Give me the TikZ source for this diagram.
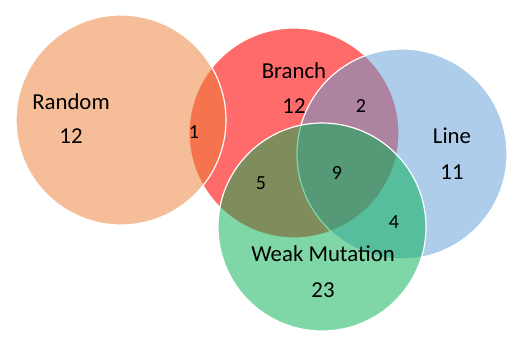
\documentclass[tikz,border=0pt]{standalone}
\usepackage{fontspec}
\setmainfont{Carlito}
\usetikzlibrary{positioning}
\definecolor{setred}{RGB}{255,0,0}
\definecolor{setorange}{RGB}{237,125,49}
\definecolor{setblue}{RGB}{91,155,213}
\definecolor{setgreen}{RGB}{0,176,80}

\begin{document}
\begin{tikzpicture}[x=1pt, y=-1pt,
    setcircle/.style={circle, draw=white, line width=1.2pt, fill opacity=0.5, inner sep=0pt},
    setname/.style={font=\fontsize{22.8}{27}\selectfont},
    setcount/.style={font=\fontsize{20}{24}\selectfont}]
    \useasboundingbox (0,0) rectangle (527,351);
    % the four sets
    \node[setcircle, fill=setred, fill opacity=0.58, minimum size=210pt] (branch) at (294,133) {};
    \node[setcircle, fill=setorange, minimum size=210pt] (random) at (121,120) {};
    \node[setcircle, fill=setblue, minimum size=210pt] (line) at (402,154) {};
    \node[setcircle, fill=setgreen, minimum size=208pt] (weak) at (322,227) {};

    % names and counts
    \node[setname] (randomname) at (71,102) {Random};
    \node[setname] (randomcount) at (71,136) {12};
    \node[setname] (branchname) at (294,71) {Branch};
    \node[setname] (branchcount) at (294,106) {12};
    \node[setname] (linename) at (452,136) {Line};
    \node[setname] (linecount) at (452,172) {11};
    \node[setname] (weakname) at (323,254) {Weak Mutation};
    \node[setname] (weakcount) at (323,290) {23};

    \node[setcount] (rb) at (194,132) {1};
    \node[setcount] (bl) at (361,106) {2};
    \node[setcount] (bw) at (261,183) {5};
    \node[setcount] (blw) at (337,173) {9};
    \node[setcount] (lw) at (394,222) {4};
\end{tikzpicture}
\end{document}
